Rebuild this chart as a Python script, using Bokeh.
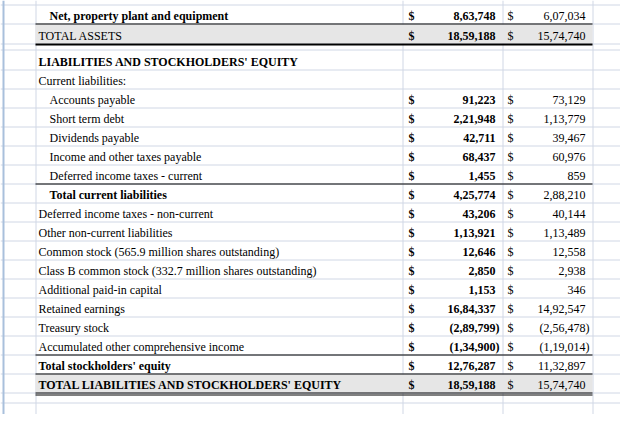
from bokeh.plotting import figure
from bokeh.models import ColumnDataSource, Range1d
from bokeh.core.properties import value, field
from bokeh.embed import file_html
from bokeh.resources import INLINE

# ---------------- data ----------------
labels = [
    "Net, property plant and equipment",
    "TOTAL ASSETS",
    "LIABILITIES AND STOCKHOLDERS' EQUITY",
    "Current liabilities:",
    "Accounts payable",
    "Short term debt",
    "Dividends payable",
    "Income and other taxes payable",
    "Deferred income taxes - current",
    "Total current liabilities",
    "Deferred income taxes - non-current",
    "Other non-current liabilities",
    "Common stock (565.9 million shares outstanding)",
    "Class B common stock (332.7 million shares outstanding)",
    "Additional paid-in capital",
    "Retained earnings",
    "Treasury stock",
    "Accumulated other comprehensive income",
    "Total stockholders' equity",
    "TOTAL LIABILITIES AND STOCKHOLDERS' EQUITY",
]
current_year = [863748, 1859188, None, None, 91223, 221948, 42711, 68437, 1455,
                425774, 43206, 113921, 12646, 2850, 1153, 1684337, -289799,
                -134900, 1276287, 1859188]
prior_year = [607034, 1574740, None, None, 73129, 113779, 39467, 60976, 859,
              288210, 40144, 113489, 12558, 2938, 346, 1492547, -256478,
              -119014, 1132897, 1574740]
currency = "$"

# ---------------- styling / layout ----------------
bold_rows = {0, 2, 9, 18, 19}
indented_rows = {0, 4, 5, 6, 7, 8, 9}
shaded_rows = {1, 19}

row_bottom = [23, 43] + [69 + 19 * k for k in range(18)]
grid_y = [4, 23, 43, 49] + [69 + 19 * k for k in range(18)] + [402, 422]
grid_x = [35, 402, 502, 592]
TEXT_OFF = 8

GRID = "#D0D7E5"
FONT = value("Liberation Serif")


def indian(v):
    s = str(abs(v))
    if len(s) > 3:
        head, tail = s[:-3], s[-3:]
        groups = []
        while len(head) > 2:
            groups.insert(0, head[-2:])
            head = head[:-2]
        if head:
            groups.insert(0, head)
        s = ",".join(groups + [tail])
    return "(" + s + ")" if v < 0 else s


p = figure(width=620, height=414, x_range=Range1d(0, 620), y_range=Range1d(414, 0),
           output_backend="svg", toolbar_location=None, min_border=0,
           x_axis_location=None, y_axis_location=None)
p.outline_line_color = None
p.grid.visible = False
p.background_fill_color = "white"
p.border_fill_color = "white"

# gridlines
p.segment(x0=[0] * len(grid_y), x1=[636] * len(grid_y),
          y0=[g + 0.5 for g in grid_y], y1=[g + 0.5 for g in grid_y],
          line_color=GRID, line_width=1)
p.segment(x0=[g + 0.5 for g in grid_x], x1=[g + 0.5 for g in grid_x],
          y0=[0] * len(grid_x), y1=[430] * len(grid_x),
          line_color=GRID, line_width=1)
p.segment(x0=[3], x1=[3], y0=[0], y1=[430], line_color="#A9C0DC", line_width=2)

# shaded total rows
sh_top = [row_bottom[i - 1] + 1 if i > 0 else 4 for i in sorted(shaded_rows)]
sh_bot = [row_bottom[i] for i in sorted(shaded_rows)]
p.quad(left=35, right=592, top=sh_top, bottom=sh_bot, fill_color="#E6E6E6", line_color=None)

# black borders
b1 = [23.5, 183.5, 354.5, 373.5, 392.5, 394.5]
p.segment(x0=[35] * len(b1), x1=[592] * len(b1), y0=b1, y1=b1, line_color="black", line_width=1)
p.segment(x0=[35], x1=[592], y0=[44], y1=[44], line_color="black", line_width=2)

# labels
lab = ColumnDataSource(dict(
    x=[49 if i in indented_rows else 38 for i in range(len(labels))],
    y=[row_bottom[i] - TEXT_OFF for i in range(len(labels))],
    t=labels,
    style=["bold" if i in bold_rows else "normal" for i in range(len(labels))],
))
p.text(x="x", y="y", text="t", source=lab, text_font=FONT, text_font_size=value("12px"),
       text_font_style=field("style"), text_baseline="alphabetic", text_align="left",
       text_color="#000000")


# values
def value_source(vals, dollar_x, right_x):
    xs, ys, ts, dx, dy = [], [], [], [], []
    for i, v in enumerate(vals):
        if v is None:
            continue
        xs.append(right_x + (4 if v < 0 else 0))
        ys.append(row_bottom[i] - TEXT_OFF)
        ts.append(indian(v))
        dx.append(dollar_x)
        dy.append(row_bottom[i] - TEXT_OFF)
    return (ColumnDataSource(dict(x=xs, y=ys, t=ts)),
            ColumnDataSource(dict(x=dx, y=dy, t=[currency] * len(dx))))


for vals, dollar_x, right_x, style in [(current_year, 408, 495, "bold"),
                                       (prior_year, 507, 585, "normal")]:
    nsrc, dsrc = value_source(vals, dollar_x, right_x)
    p.text(x="x", y="y", text="t", source=nsrc, text_font=FONT, text_font_size=value("12px"),
           text_font_style=style, text_baseline="alphabetic", text_align="right",
           text_color="#000000")
    p.text(x="x", y="y", text="t", source=dsrc, text_font=FONT, text_font_size=value("12px"),
           text_font_style=style, text_baseline="alphabetic", text_align="left",
           text_color="#000000")

open("out.html", "w").write(file_html(p, INLINE))
